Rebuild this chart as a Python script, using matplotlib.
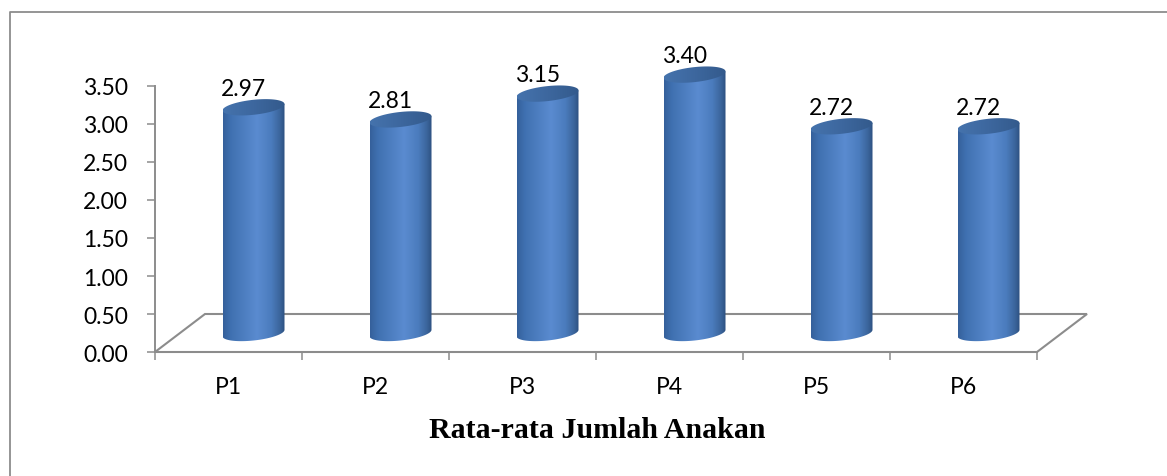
import numpy as np
import matplotlib
matplotlib.use("Agg")
import matplotlib.pyplot as plt
from matplotlib.patches import Polygon
from matplotlib.lines import Line2D
from matplotlib.colors import LinearSegmentedColormap

# Data
categories = ["P1", "P2", "P3", "P4", "P5", "P6"]
values = [2.97, 2.81, 3.15, 3.40, 2.72, 2.72]
y_ticks = [0.0, 0.5, 1.0, 1.5, 2.0, 2.5, 3.0, 3.5]
x_title = "Rata-rata Jumlah Anakan"

W, H, DPI = 1167, 477, 100
fig = plt.figure(figsize=(W / DPI, H / DPI), dpi=DPI)
fig.patch.set_facecolor("white")

# Front plane of the 3-D plot box (pixel frame of the value axis)
left_px, right_px, base_px, top_px = 155, 1037, 353, 87
ax = fig.add_axes([left_px / W, (H - base_px) / H,
                   (right_px - left_px) / W, (base_px - top_px) / H])
ax.set_facecolor("none")
ax.set_xlim(-0.5, len(categories) - 0.5)
ax.set_ylim(0, 3.5)
ax.set_autoscale_on(False)

grey = "#8c8c8c"
label_font = "Lato"

# Axes styling
for s in ("top", "right"):
    ax.spines[s].set_visible(False)
for s in ("left", "bottom"):
    ax.spines[s].set_color(grey)
    ax.spines[s].set_linewidth(1.4)

ax.set_yticks(y_ticks)
ax.set_yticklabels([f"{t:.2f}" for t in y_ticks], fontfamily=label_font,
                   fontsize=16.5)
ax.tick_params(axis="y", direction="out", length=5.8, width=1.1,
               color=grey, pad=13.5)

ax.set_xticks(range(len(categories)))
ax.set_xticklabels(categories, fontfamily=label_font, fontsize=16.5)
ax.set_xticks(np.arange(-0.5, len(categories), 1.0), minor=True)
ax.tick_params(axis="x", which="major", length=0, pad=17)
ax.tick_params(axis="x", which="minor", direction="out", length=5.8,
               width=1.1, color=grey)

# Floor of the 3-D box (depth offset in slot / value units)
depth_dx = 50 / 147
depth_dy = 0.5
n = len(categories)
floor = Polygon([(-0.5, 0), (n - 0.5, 0), (n - 0.5 + depth_dx, depth_dy),
                 (-0.5 + depth_dx, depth_dy)], closed=True, fill=False,
                edgecolor=grey, linewidth=1.5, clip_on=False, zorder=1)
ax.add_patch(floor)

# Cylinders
body_cmap = LinearSegmentedColormap.from_list(
    "cyl", [(0.0, "#35609a"), (0.12, "#3f70b0"), (0.55, "#5a8bd0"),
            (0.78, "#4b7cbd"), (0.92, "#3b659c"), (1.0, "#2c5080")])
top_cmap = LinearSegmentedColormap.from_list(
    "cyltop", [(0.0, "#4573ad"), (0.5, "#3d679e"), (1.0, "#335a8c")])

half_w = 31 / 147          # half bar width, slot units
ell_b = 7.5 / 76           # ellipse semi-minor axis, value units
tilt = 3.2 / 76            # rise of the ellipse's right end, value units
t = np.linspace(0, 2 * np.pi, 181)
grad = np.linspace(0, 1, 256).reshape(1, -1)

for i, v in enumerate(values):
    cx = i + depth_dx / 2
    y0 = depth_dy / 2
    y1 = v + depth_dy / 2

    # body outline: top edge, right side, lower half of the base ellipse
    tb = np.linspace(0, -np.pi, 91)
    bx = cx + half_w * np.cos(tb)
    by = y0 + ell_b * np.sin(tb) + tilt * np.cos(tb)
    body_pts = [(cx - half_w, y1 - tilt), (cx + half_w, y1 + tilt)]
    body_pts += list(zip(bx, by))
    body = Polygon(body_pts, closed=True, facecolor="none", edgecolor="none",
                   transform=ax.transData)
    ax.add_patch(body)
    body.set_clip_on(False)
    im = ax.imshow(grad, cmap=body_cmap, aspect="auto", interpolation="bilinear",
                   extent=(cx - half_w, cx + half_w, y0 - 0.3, y1 + 0.3),
                   zorder=2)
    im.set_clip_path(body)
    im.set_clip_box(fig.bbox)

    # top cap
    ex = cx + half_w * np.cos(t)
    ey = y1 + ell_b * np.sin(t) + tilt * np.cos(t)
    cap = Polygon(list(zip(ex, ey)), closed=True, facecolor="none",
                  edgecolor="none", transform=ax.transData)
    ax.add_patch(cap)
    cap.set_clip_on(False)
    imc = ax.imshow(grad, cmap=top_cmap, aspect="auto", interpolation="bilinear",
                    extent=(cx - half_w, cx + half_w, y1 - 0.2, y1 + 0.2),
                    zorder=3)
    imc.set_clip_path(cap)
    imc.set_clip_box(fig.bbox)

    # value label
    ax.text(cx - 10 / 147, y1 + 19 / 76, f"{v:.2f}", ha="center", va="center",
            fontfamily=label_font, fontsize=16.5, color="black",
            clip_on=False, zorder=4)

# Axis title
fig.text(597 / W, 1 - 431 / H, x_title, ha="center", va="center",
         fontfamily="Liberation Serif", fontweight="bold", fontsize=21.5)

# Chart frame (left and top edges)
fig.add_artist(Line2D([10 / W, 10 / W, 1.0], [0.0, 1 - 13 / H, 1 - 13 / H],
                      color=grey, linewidth=1.3))

fig.savefig("out.png", dpi=DPI)
